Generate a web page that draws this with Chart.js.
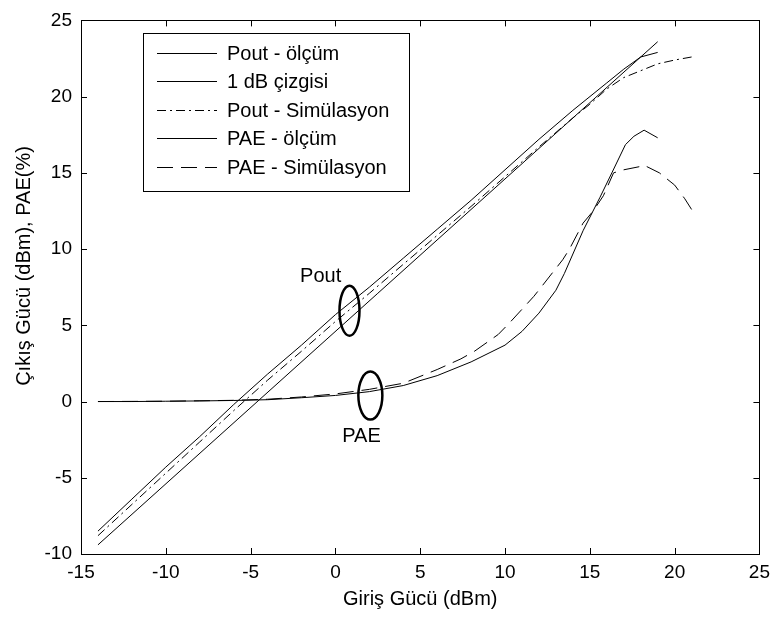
<!DOCTYPE html>
<html>
<head>
<meta charset="utf-8">
<script src="https://cdn.jsdelivr.net/npm/chart.js@4/dist/chart.umd.min.js"></script>
<style>
  html, body { margin: 0; padding: 0; background: #fff; }
  #wrap { width: 777px; height: 617px; }
</style>
</head>
<body>
<div id="wrap"><canvas id="c" width="777" height="617"></canvas></div>
<script>
const poutMeasX = [-14, -12, -10, -8, -6, -4, -2, 0, 2, 4, 6, 8, 10, 12, 14, 16, 17, 18, 19];
const poutMeasY = [-8.5, -6.4, -4.3, -2.3, -0.2, 1.8, 3.7, 5.7, 7.5, 9.4, 11.3, 13.2, 15.2, 17.2, 19.1, 20.9, 21.8, 22.6, 22.9];

const dbLineX = [-14, 19];
const dbLineY = [-9.4, 23.6];

const poutSimX = [-14, -12, -10, -8, -6, -4, -2, 0, 2, 4, 6, 8, 10, 12, 14, 15, 16, 17, 18, 19, 20, 21];
const poutSimY = [-8.8, -6.75, -4.7, -2.65, -0.6, 1.4, 3.3, 5.25, 7.1, 9.0, 10.9, 12.8, 14.75, 16.7, 18.6, 19.5, 20.5, 21.25, 21.7, 22.15, 22.4, 22.6];

const paeMeasX = [-14, -12, -10, -8, -6, -4, -2, 0, 2, 4, 6, 8, 10, 11, 12, 13, 13.5, 14.6, 15.6, 16.3, 17.1, 17.6, 18.2, 19];
const paeMeasY = [0, 0, 0.02, 0.04, 0.07, 0.12, 0.25, 0.4, 0.65, 1.05, 1.7, 2.6, 3.7, 4.6, 5.8, 7.3, 8.4, 11.2, 13.4, 15.0, 16.85, 17.4, 17.8, 17.3];

const paeSimX = [-14, -10, -6, -4, -2, 0, 2, 4, 6, 7.4, 8.2, 9.6, 10.3, 11.7, 12.2, 13.4, 13.8, 14.6, 15.2, 15.8, 16.4, 17, 17.9, 18.2, 19.1, 20, 20.6, 21];
const paeSimY = [0, 0.02, 0.08, 0.15, 0.3, 0.5, 0.8, 1.2, 2.1, 2.8, 3.3, 4.4, 5.2, 6.9, 7.6, 9.3, 10.0, 11.7, 12.5, 13.5, 15.0, 15.2, 15.4, 15.5, 15.0, 14.2, 13.3, 12.6];

const seriesNames = ["Pout - ölçüm", "1 dB çizgisi", "Pout - Simülasyon", "PAE - ölçüm", "PAE - Simülasyon"];

const FONT = '"Liberation Sans", Arial, sans-serif';

function pts(xs, ys) {
  return xs.map((x, i) => ({ x: x, y: ys[i] }));
}

function ds(label, xs, ys, dash) {
  return {
    label: label,
    data: pts(xs, ys),
    borderColor: "#000",
    borderWidth: 1,
    borderDash: dash,
    pointRadius: 0,
    tension: 0,
    fill: false
  };
}

const boxPlugin = {
  id: "matlabBox",
  afterDraw(chart) {
    const ctx = chart.ctx;
    const { left, right, top, bottom } = chart.chartArea;
    const xs = chart.scales.x, ys = chart.scales.y;
    ctx.save();
    ctx.strokeStyle = "#000";
    ctx.lineWidth = 1;
    ctx.setLineDash([]);
    ctx.strokeRect(Math.round(left) + 0.5, Math.round(top) + 0.5, Math.round(right - left), Math.round(bottom - top));

    // inward ticks on all sides
    ctx.beginPath();
    xs.ticks.forEach(t => {
      const px = Math.round(xs.getPixelForValue(t.value)) + 0.5;
      ctx.moveTo(px, bottom); ctx.lineTo(px, bottom - 6);
      ctx.moveTo(px, top); ctx.lineTo(px, top + 6);
    });
    ys.ticks.forEach(t => {
      const py = Math.round(ys.getPixelForValue(t.value)) + 0.5;
      ctx.moveTo(left, py); ctx.lineTo(left + 6, py);
      ctx.moveTo(right, py); ctx.lineTo(right - 6, py);
    });
    ctx.stroke();

    // axis titles
    ctx.fillStyle = "#000";
    ctx.font = "20px " + FONT;
    ctx.textAlign = "center";
    ctx.textBaseline = "middle";
    ctx.fillText("Giriş Gücü (dBm)", (left + right) / 2, 599);
    ctx.save();
    ctx.translate(24, 266);
    ctx.rotate(-Math.PI / 2);
    ctx.fillText("Çıkış Gücü (dBm), PAE(%)", 0, 0);
    ctx.restore();

    // annotations
    ctx.lineWidth = 2.5;
    ctx.beginPath();
    ctx.ellipse(xs.getPixelForValue(0.83), ys.getPixelForValue(5.96), 10, 25, 0, 0, Math.PI * 2);
    ctx.stroke();
    ctx.beginPath();
    ctx.ellipse(xs.getPixelForValue(2.06), ys.getPixelForValue(0.39), 12, 24, 0, 0, Math.PI * 2);
    ctx.stroke();
    ctx.fillText("Pout", xs.getPixelForValue(-0.87), ys.getPixelForValue(8.2));
    ctx.fillText("PAE", xs.getPixelForValue(1.54), ys.getPixelForValue(-2.27));

    // legend box
    const lx = 143, ly = 33, lw = 266, lh = 158;
    ctx.lineWidth = 1;
    ctx.fillStyle = "#fff";
    ctx.fillRect(lx, ly, lw, lh);
    ctx.strokeRect(lx + 0.5, ly + 0.5, lw, lh);
    ctx.fillStyle = "#000";
    ctx.textAlign = "left";
    chart.data.datasets.forEach((d, i) => {
      const y = Math.round(53 + i * 28.4) + 0.5;
      ctx.setLineDash(d.borderDash || []);
      ctx.beginPath();
      ctx.moveTo(157, y);
      ctx.lineTo(217, y);
      ctx.stroke();
      ctx.setLineDash([]);
      ctx.fillText(d.label, 227, y + 1);
    });
    ctx.restore();
  }
};

new Chart(document.getElementById("c"), {
  type: "line",
  data: {
    datasets: [
      ds(seriesNames[0], poutMeasX, poutMeasY, []),
      ds(seriesNames[1], dbLineX, dbLineY, []),
      ds(seriesNames[2], poutSimX, poutSimY, [9, 4, 2, 4]),
      ds(seriesNames[3], paeMeasX, paeMeasY, []),
      ds(seriesNames[4], paeSimX, paeSimY, [16, 8])
    ]
  },
  options: {
    responsive: false,
    animation: false,
    devicePixelRatio: 1,
    layout: { padding: { top: 15, right: 14, left: 0, bottom: 0 } },
    plugins: { legend: { display: false }, tooltip: { enabled: false } },
    scales: {
      x: {
        type: "linear",
        min: -15, max: 25,
        ticks: { stepSize: 5, color: "#000", padding: 7, font: { family: FONT, size: 19 } },
        grid: { display: false, drawTicks: false },
        border: { display: false },
        afterFit(s) { s.height = 63; }
      },
      y: {
        type: "linear",
        min: -10, max: 25,
        ticks: { stepSize: 5, color: "#000", padding: 9, font: { family: FONT, size: 19 } },
        grid: { display: false, drawTicks: false },
        border: { display: false },
        afterFit(s) { s.width = 81; }
      }
    }
  },
  plugins: [boxPlugin]
});
</script>
</body>
</html>
